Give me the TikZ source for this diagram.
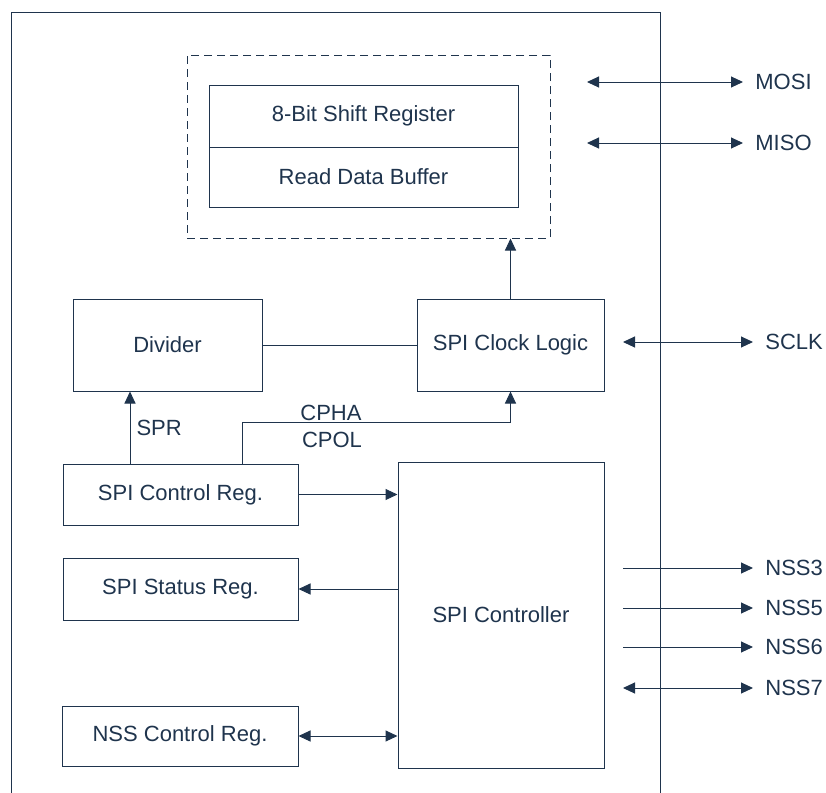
\documentclass[tikz,border=0pt]{standalone}
\usepackage{fontspec}
\setmainfont{Liberation Sans}
\usetikzlibrary{arrows.meta,positioning}
\definecolor{spiblue}{RGB}{31,52,77}

\begin{document}
\begin{tikzpicture}[
  x=0.5pt, y=-0.5pt,
  font=\fontsize{11}{13}\selectfont,
  every node/.style={text=spiblue},
  blk/.style={draw=spiblue, line width=0.5pt, inner sep=0pt, align=center},
  lbl/.style={inner sep=0pt},
  sig/.style={inner sep=6pt, anchor=west},
  wire/.style={draw=spiblue, line width=0.5pt},
  arr/.style={wire, -{Triangle[length=6pt,width=5.5pt]}},
  darr/.style={wire, {Triangle[length=6pt,width=5.5pt]}-{Triangle[length=6pt,width=5.5pt]}},
]
\useasboundingbox (0,0) rectangle (826,793);

% The chip outline, open at the bottom.
\draw[wire] (11,793) |- (660,12) -- (660,793);

% Data path.
\node[blk, dashed, dash pattern=on 4pt off 2.5pt, minimum width=181.5pt, minimum height=91.5pt] (buf) at (368.5,146.5) {};
\node[blk, minimum width=154.5pt, minimum height=31pt] (shift) at (363.5,116) {8-Bit Shift Register};
\node[blk, minimum width=154.5pt, minimum height=30pt] (read) at (363.5,177) {Read Data Buffer};

% Clock generation.
\node[blk, minimum width=94.5pt, minimum height=46pt] (div) at (167.5,345) {Divider};
\node[blk, minimum width=93.5pt, minimum height=46pt] (clk) at (510.5,345) {SPI Clock Logic};

% Registers and controller.
\node[blk, minimum width=117.5pt, minimum height=30.5pt] (ctrl) at (180.5,494.5) {SPI Control Reg.};
\node[blk, minimum width=117.5pt, minimum height=31pt] (stat) at (180.5,589) {SPI Status Reg.};
\node[blk, minimum width=118pt, minimum height=30pt] (nssc) at (180,736) {NSS Control Reg.};
\node[blk, minimum width=103pt, minimum height=153pt] (spic) at (501,615) {SPI Controller};

\coordinate (sprx) at (130,0);
\coordinate (cpx) at (242,0);

\draw[arr] (clk.north) -- (clk.north |- buf.south);
\draw[wire] (div.east) -- (div.east -| clk.west);
\draw[arr] (ctrl.north -| sprx) -- node[lbl, right=3pt]{SPR} (div.south -| sprx);
\draw[arr] (ctrl.north -| cpx) -- ++(0,-41) -| (clk.south);
\node[lbl] (cpha) at (331,413) {CPHA};
\node[lbl] (cpol) at (332,440) {CPOL};

\draw[arr] (ctrl.east) -- (ctrl.east -| spic.west);
\draw[arr] (stat.east -| spic.west) -- (stat.east);
\draw[darr] (nssc.east) -- (nssc.east -| spic.west);

% External pins.
\node[sig] (mosi) at (743,82) {MOSI};
\node[sig] (miso) at (743,143) {MISO};
\node[sig] (sclk) at (753,342) {SCLK};
\node[sig] (nss3) at (753,568) {NSS3};
\node[sig] (nss5) at (753,608) {NSS5};
\node[sig] (nss6) at (753,647) {NSS6};
\node[sig] (nss7) at (753,688) {NSS7};
\coordinate (mosiin) at (587,82);
\coordinate (misoin) at (587,143);
\coordinate (sclkin) at (623,342);
\coordinate (nss3in) at (623,568);
\coordinate (nss5in) at (623,608);
\coordinate (nss6in) at (623,647);
\coordinate (nss7in) at (623,688);

\draw[darr] (mosiin) -- (mosi.west);
\draw[darr] (misoin) -- (miso.west);
\draw[darr] (sclkin) -- (sclk.west);
\draw[arr] (nss3in) -- (nss3.west);
\draw[arr] (nss5in) -- (nss5.west);
\draw[arr] (nss6in) -- (nss6.west);
\draw[darr] (nss7in) -- (nss7.west);

\end{tikzpicture}
\end{document}
